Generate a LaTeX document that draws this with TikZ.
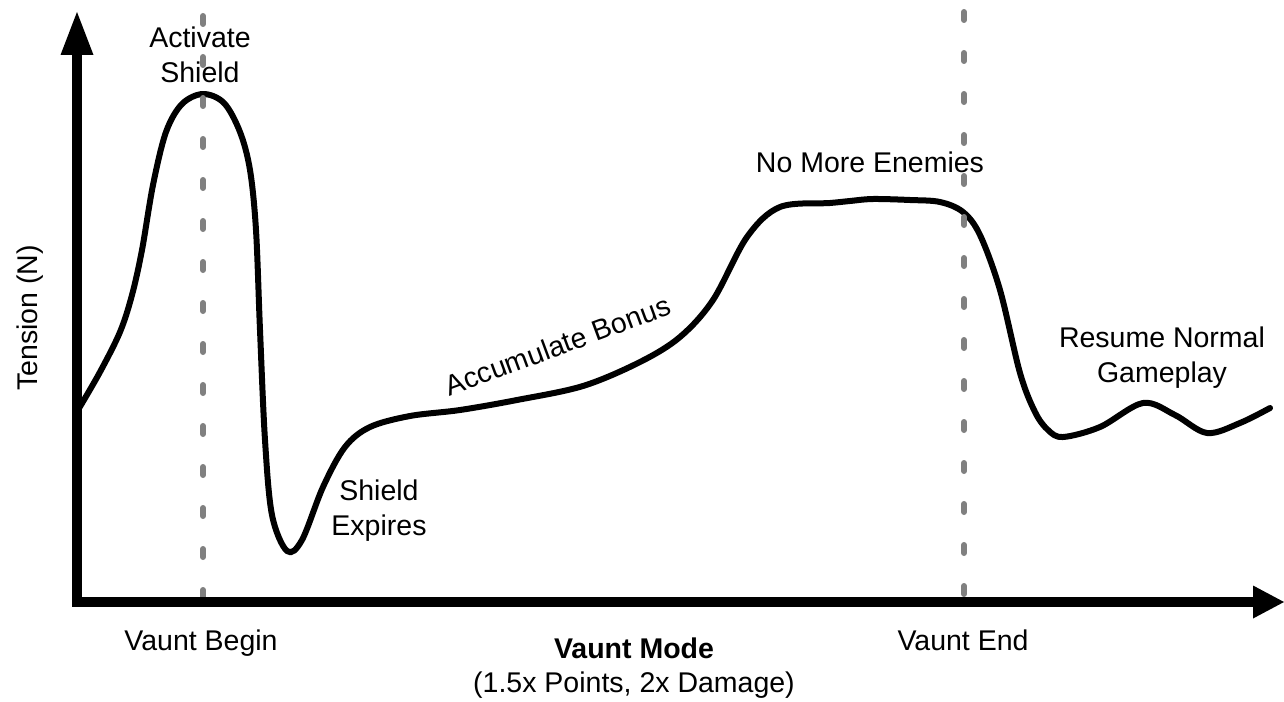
\documentclass[tikz,border=0pt]{standalone}
\usepackage{fontspec}
\setmainfont{Liberation Sans}
\usetikzlibrary{arrows.meta}
\definecolor{markgray}{HTML}{808080}
\begin{document}
\begin{tikzpicture}[x=1pt,y=-1pt,
  lbl/.style={font=\fontsize{28.5}{35}\selectfont, inner sep=0pt, align=center},
  axisline/.style={line width=10pt, line join=miter,
    {Triangle[length=43pt,width=33pt,line width=0pt]}-{Triangle[length=31pt,width=33pt,line width=0pt]}},
  marker/.style={draw=markgray, line width=6pt, line cap=round, dash pattern=on 8pt off 33pt},
  curvestyle/.style={line width=6pt, line join=round, line cap=round}
]
\useasboundingbox (0,0) rectangle (1284,701);

% axes
\coordinate (origin) at (77,602);
\coordinate (ytip) at (77,12);
\coordinate (xtip) at (1284,602);

% event markers
\coordinate (beginTop) at (203,16);
\coordinate (beginBot) at (203,602);
\coordinate (endTop) at (964,12);
\coordinate (endBot) at (964,602);

% tension curve
\draw[curvestyle] plot[smooth, tension=0.55] coordinates {
  (78,410) (100,372) (120,332) (132,295) (142,250) (153,185) (166,132)
  (182,104) (203,94) (224,103) (240,132) (250,170) (256,230) (260,330)
  (265,440) (272,515) (287,551) (302,540) (323,487) (345,447)
  (370,427) (410,416) (460,410) (517,400) (583,386) (640,362) (680,337)
  (713,300) (747,237) (780,207) (830,203) (850,201) (873,199)
  (910,200) (940,202) (963,212) (980,235) (1000,290) (1020,373) (1035,412)
  (1048,430) (1063,437) (1100,427) (1143,403) (1175,415) (1207,433)
  (1240,423) (1270,408)};

\draw[marker] (beginTop) -- (beginBot);
\draw[marker] (endTop) -- (endBot);

\draw[axisline] (ytip) -- (origin) -- (xtip);

% labels
\node[lbl] (activate) at (200,55) {Activate\\Shield};
\node[lbl] (expires) at (379,511) {Shield\\Expires};
\node[lbl, anchor=base, rotate=20.3] (bonus) at (561,355) {Accumulate Bonus};
\node[lbl, anchor=base] (noenemies) at (870,172) {No More Enemies};
\node[lbl] (resume) at (1162,358) {Resume Normal\\Gameplay};
\node[lbl, anchor=base, rotate=90] (ylabel) at (37,318) {Tension (N)};
\node[lbl, anchor=base] (vbegin) at (201,650) {Vaunt Begin};
\node[lbl, anchor=base] (vend) at (963,650) {Vaunt End};
\node[lbl, font=\fontsize{28.5}{34}\selectfont] (vmode) at (634,668) {{\bfseries Vaunt Mode}\\(1.5x Points, 2x Damage)};
\end{tikzpicture}
\end{document}
